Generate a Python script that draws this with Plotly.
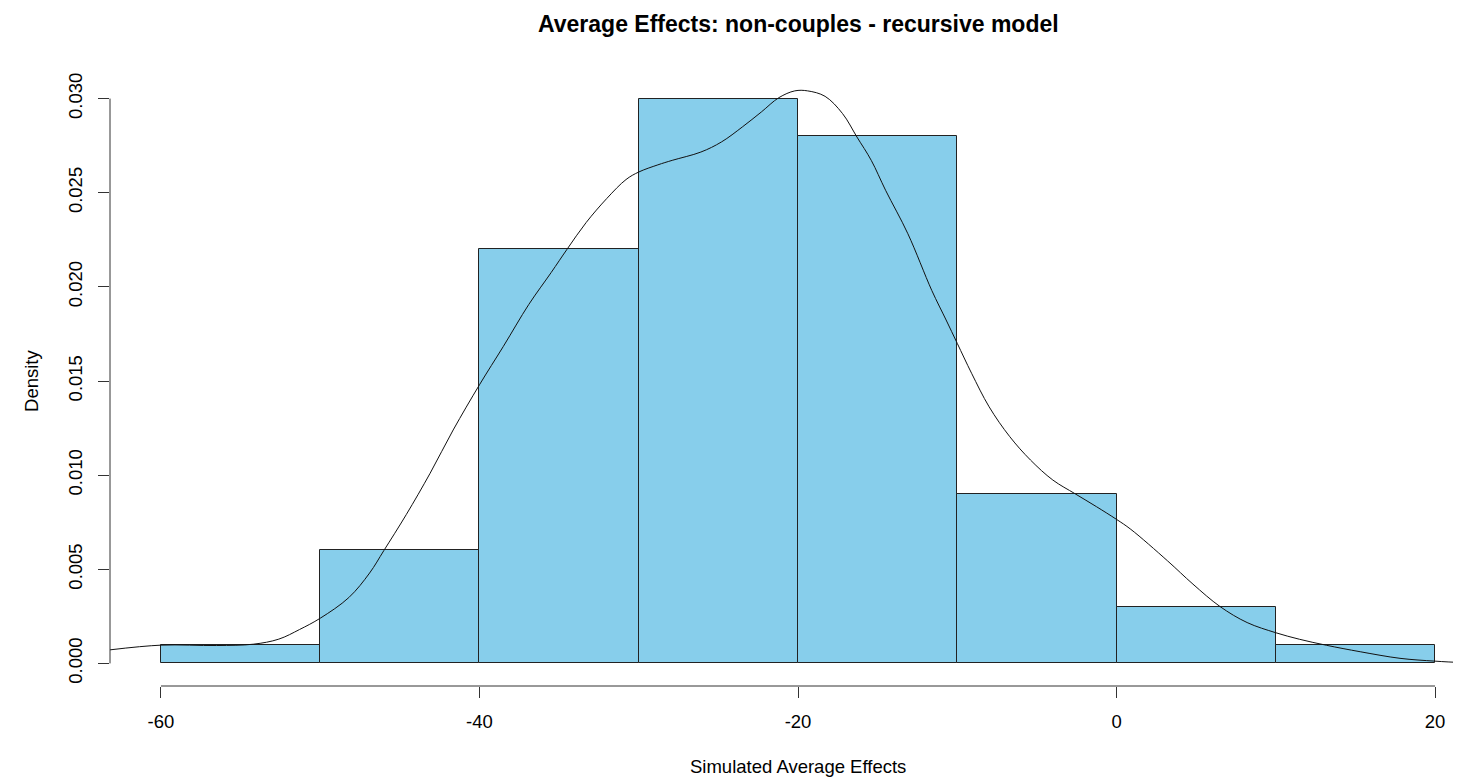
import plotly.graph_objects as go

# histogram of simulated average effects (density scale)
bin_edges = [-60, -50, -40, -30, -20, -10, 0, 10, 20]
density = [0.001, 0.006, 0.022, 0.030, 0.028, 0.009, 0.003, 0.001]

# kernel density curve
kde_x = [-63.2, -60.0, -56.5, -54.2, -52.6, -51.3, -50.0, -48.2, -46.9, -46.0,
         -44.6, -43.1, -41.65, -40.0, -38.5, -36.9, -35.5, -34.5, -33.3, -32.0,
         -30.8, -30.0, -28.8, -27.9, -26.1, -24.8, -23.5, -22.3, -21.2, -20.2,
         -19.4, -18.3, -17.2, -16.3, -15.4, -14.5, -13.1, -11.6, -10.7, -10.0,
         -9.1, -8.0, -6.7, -5.4, -4.0, -2.6, -1.25, 0.0, 0.9, 3.2,
         4.8, 6.5, 8.2, 10.0, 11.5, 13.2, 15.3, 17.8, 20.0, 21.6, 23.0]
kde_y = [0.00072, 0.00097, 0.00095, 0.00102, 0.00129, 0.0018, 0.0024, 0.0035, 0.0048, 0.0060,
         0.0079, 0.0101, 0.0124, 0.0148, 0.01684, 0.01907, 0.02076, 0.0220, 0.02342, 0.0247,
         0.0257, 0.0261, 0.02648, 0.02672, 0.02716, 0.0277, 0.02849, 0.02929, 0.03005, 0.03041,
         0.03041, 0.03012, 0.0292, 0.02796, 0.02672, 0.02513, 0.02282, 0.01981, 0.01824, 0.0170,
         0.01541, 0.01363, 0.01204, 0.0108, 0.00974, 0.00901, 0.00832, 0.00765, 0.00712, 0.00545,
         0.00421, 0.00302, 0.00217, 0.00163, 0.00128, 0.00096, 0.00062, 0.00027, 0.00012, 0.00005, 0.00003]

x_ticks = [-60, -40, -20, 0, 20]
x_ticklabels = ["-60", "-40", "-20", "0", "20"]
y_ticks = [0.000, 0.005, 0.010, 0.015, 0.020, 0.025, 0.030]

title = "Average Effects: non-couples - recursive model"
x_title = "Simulated Average Effects"
y_title = "Density"

FONT = "Liberation Sans, Arial, Helvetica, sans-serif"

mids = [(a + b) / 2 for a, b in zip(bin_edges[:-1], bin_edges[1:])]
widths = [b - a for a, b in zip(bin_edges[:-1], bin_edges[1:])]

fig = go.Figure()
fig.add_trace(go.Bar(x=mids, y=density, width=widths,
                     marker=dict(color="#87CEEB", line=dict(color="#222222", width=1)),
                     hoverinfo="x+y"))
fig.add_trace(go.Scatter(x=kde_x, y=kde_y, mode="lines",
                         line=dict(color="#111111", width=1, shape="spline", smoothing=1.0)))

# R style axis lines: only span the tick range
fig.add_shape(type="line", xref="x", yref="paper", x0=min(x_ticks), x1=max(x_ticks), y0=0, y1=0,
              line=dict(color="#333333", width=1))
fig.add_shape(type="line", xref="paper", yref="y", x0=0, x1=0, y0=min(y_ticks), y1=max(y_ticks),
              line=dict(color="#333333", width=1))

mid_x = (min(bin_edges) + max(bin_edges)) / 2
fig.add_annotation(text="<b>" + title + "</b>", x=mid_x, xref="x", y=1.085, yref="paper",
                   showarrow=False, yanchor="middle", font=dict(size=23, color="black", family=FONT))
fig.add_annotation(text=x_title, x=mid_x, xref="x", y=-0.132, yref="paper",
                   showarrow=False, yanchor="middle", font=dict(size=18.5, color="black", family=FONT))
fig.add_annotation(text=y_title, x=-0.0585, xref="paper", y=0.015, yref="y", textangle=-90,
                   showarrow=False, xanchor="center", font=dict(size=18.5, color="black", family=FONT))

fig.update_xaxes(range=[-63.2, 21.63], tickvals=x_ticks, ticktext=x_ticklabels,
                 ticks="outside", ticklen=11, tickcolor="#333333", tickwidth=1,
                 ticklabelstandoff=8,
                 showgrid=False, zeroline=False, showline=False,
                 tickfont=dict(size=18.5, color="black", family=FONT))
fig.update_yaxes(range=[-0.0012, 0.0312], tickvals=y_ticks, tickformat=".3f", tickangle=-90,
                 ticks="outside", ticklen=11, tickcolor="#333333", tickwidth=1,
                 ticklabelstandoff=9,
                 showgrid=False, zeroline=False, showline=False,
                 tickfont=dict(size=18.5, color="black", family=FONT))
# page body adds an 8px offset, so the figure is 8px smaller than the window
fig.update_layout(width=1453, height=775, showlegend=False, bargap=0,
                  plot_bgcolor="white", paper_bgcolor="white",
                  margin=dict(l=102, r=0, t=68, b=97),
                  font=dict(family=FONT, color="black"))
fig.write_html("out.html")
